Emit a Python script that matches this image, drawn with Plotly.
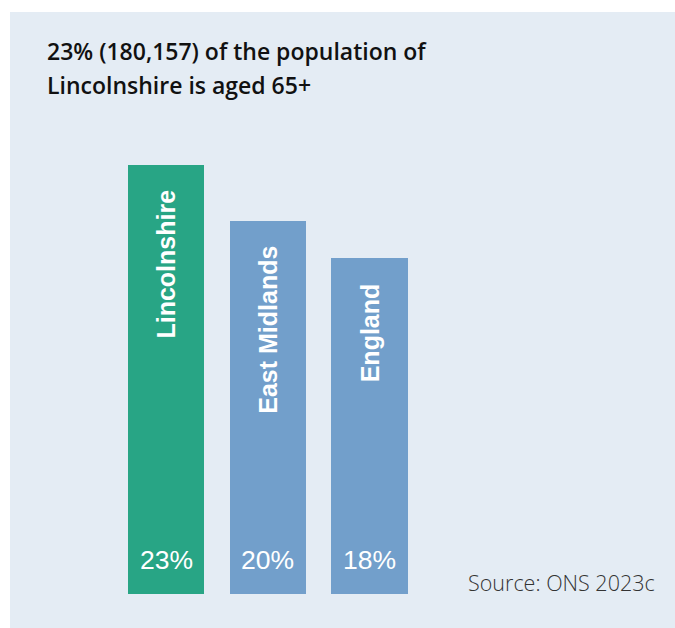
import plotly.graph_objects as go

categories = ["Lincolnshire", "East Midlands", "England"]
values = [23, 20, 18]
value_labels = ["23%", "20%", "18%"]
bar_colors = ["#28A585", "#729FCB", "#729FCB"]

title_lines = ["23% (180,157) of the population of", "Lincolnshire is aged 65+"]
source_text = "Source: ONS 2023c"

PANEL = "#E4ECF4"
W, H = 675, 628
ML, MR, MT, MB = 10, 0, 12, 0
PW, PH = W - ML - MR, H - MT - MB

x_pos = list(range(len(categories)))

fig = go.Figure()
fig.add_trace(go.Bar(
    x=x_pos, y=values, width=0.75,
    marker=dict(color=bar_colors, line=dict(width=0)),
    hoverinfo="skip", showlegend=False,
))

ann = []
for xi, cat, v, lab in zip(x_pos, categories, values, value_labels):
    ann.append(dict(
        x=xi, y=v, xref="x", yref="y", text=cat, textangle=-90,
        showarrow=False, xanchor="center", yanchor="top", yshift=-23,
        font=dict(family="Liberation Sans, Arial", size=25, color="white", weight="bold"),
    ))
    ann.append(dict(
        x=xi, y=0, xref="x", yref="y", text=lab,
        showarrow=False, xanchor="center", yanchor="middle", yshift=34,
        font=dict(family="Liberation Sans, Arial", size=26.5, color="white"),
    ))

def px_x(p):
    return (p - ML) / PW

def px_y(p):
    return (H - MB - p) / PH

for line, cy in zip(title_lines, [51, 85]):
    ann.append(dict(
        x=px_x(45), y=px_y(cy), xref="paper", yref="paper", text=line,
        showarrow=False, xanchor="left", yanchor="middle",
        font=dict(family="Open Sans", size=23, color="#111111", weight=600),
    ))

ann.append(dict(
    x=px_x(657), y=px_y(582), xref="paper", yref="paper", text=source_text,
    showarrow=False, xanchor="right", yanchor="middle",
    font=dict(family="Open Sans", size=21.5, color="#333333", weight=300),
))

# axis ranges: 101.75 px per category, 18.65 px per percent
xscale = 101.75
x0 = -(166 - ML) / xscale
x1 = x0 + PW / xscale
yscale = 18.65
y0 = -(H - MB - 594) / yscale
y1 = y0 + PH / yscale

fig.update_layout(
    width=W, height=H,
    margin=dict(l=ML, r=MR, t=MT, b=MB, pad=0),
    paper_bgcolor="white", plot_bgcolor=PANEL,
    xaxis=dict(range=[x0, x1], visible=False, showgrid=False, zeroline=False, fixedrange=True),
    yaxis=dict(range=[y0, y1], visible=False, showgrid=False, zeroline=False, fixedrange=True),
    annotations=ann,
    bargap=0,
)

fig.write_html(
    "out.html",
    config={"displayModeBar": False},
    post_script="document.body.style.margin='0';document.body.style.overflow='hidden';document.documentElement.style.overflow='hidden';",
)
